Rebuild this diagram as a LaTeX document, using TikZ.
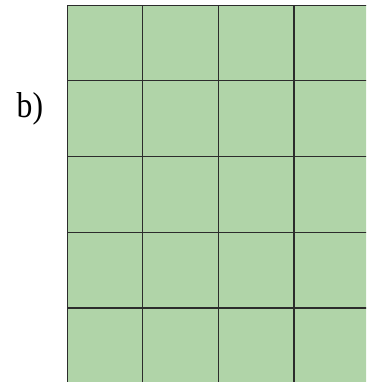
\documentclass[tikz,border=0pt]{standalone}
\usepackage{fontspec}
\setmainfont{Liberation Serif}
\definecolor{cellgreen}{RGB}{176,212,168}
\definecolor{gridgray}{RGB}{44,44,44}
\tikzset{
  cellfill/.style={fill=cellgreen},
  gridline/.style={draw=gridgray,line width=1.4pt},
  tagtext/.style={inner sep=0pt,anchor=base west,font=\fontsize{36}{40}\selectfont,xscale=0.88}
}
\begin{document}
\begin{tikzpicture}[x=1pt,y=1pt]
\useasboundingbox (0,0) rectangle (366,382);
\clip (0,0) rectangle (366,382);
\fill[cellfill] (67.3,-5) rectangle (372,376.7);
\foreach \x in {142.7,218.7,294} \draw[gridline] (\x,-5) -- (\x,376.7);
\foreach \y in {80.7,156.3,232.3,308} \draw[gridline] (67.3,382-\y) -- (372,382-\y);
\draw[gridline] (67.3,-5) |- (372,376.7);
\node[tagtext] (tag) at (16.5,264) {b)};
\end{tikzpicture}
\end{document}
